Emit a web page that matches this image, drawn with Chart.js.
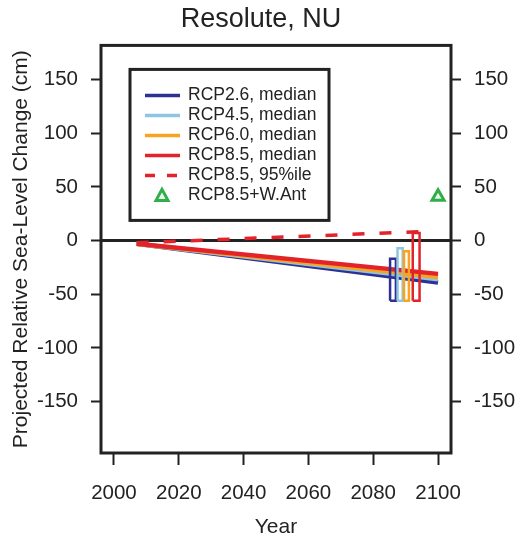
<!DOCTYPE html>
<html>
<head>
<meta charset="utf-8">
<script src="https://cdn.jsdelivr.net/npm/chart.js@4/dist/chart.umd.min.js"></script>
<style>
  body { margin: 0; background: #fff; }
  #wrap { width: 522px; height: 541px; }
</style>
</head>
<body>
<div id="wrap"><canvas id="slr" width="522" height="541"></canvas></div>
<script>
// values
const medianYears = [2007, 2100];
const rcp26Median = [-3, -39];
const rcp45Median = [-3, -36];
const rcp60Median = [-3, -34];
const rcp85Median = [-3, -31];
const p95Years = [2007, 2096];
const rcp85P95 = [-2, 8.5];

// 2100 ranges (boxes), drawn just left of 2100
const boxLeft = [2085.2, 2087.5, 2089.5, 2092.2];
const boxRight = [2087.0, 2089.1, 2091.0, 2094.3];
const boxLow = [-56, -56, -56, -56];
const boxHigh = [-17, -7, -10, 7];

const wAntYear = [2100];
const wAntValue = [41];

const xTicks = [2000, 2020, 2040, 2060, 2080, 2100];
const yTicks = [-150, -100, -50, 0, 50, 100, 150];

const seriesColors = ['#2e3192', '#8ec5e3', '#f7a520', '#e2232a'];
const legendLabels = ['RCP2.6, median', 'RCP4.5, median', 'RCP6.0, median',
  'RCP8.5, median', 'RCP8.5, 95%ile', 'RCP8.5+W.Ant'];
const green = '#2fae4a';
const ink = '#222';
const FONT = '"Liberation Sans", Arial, Helvetica, sans-serif';

function pts(xs, ys) {
  return xs.map((x, i) => ({ x: x, y: ys[i] }));
}

function boxPath(i) {
  return [
    { x: boxLeft[i], y: boxLow[i] },
    { x: boxLeft[i], y: boxHigh[i] },
    { x: boxRight[i], y: boxHigh[i] },
    { x: boxRight[i], y: boxLow[i] },
    { x: boxLeft[i], y: boxLow[i] },
  ];
}

const medians = [rcp26Median, rcp45Median, rcp60Median, rcp85Median];

const datasets = [];
// zero reference line
datasets.push({
  data: [{ x: 1996, y: 0 }, { x: 2104, y: 0 }],
  borderColor: ink, borderWidth: 3, pointRadius: 0, order: 20,
});
medians.forEach((m, i) => {
  datasets.push({
    label: legendLabels[i],
    data: pts(medianYears, m),
    borderColor: seriesColors[i], borderWidth: 4.5, pointRadius: 0,
    order: 15 - i,
  });
});
datasets.push({
  label: legendLabels[4],
  data: pts(p95Years, rcp85P95),
  borderColor: seriesColors[3], borderWidth: 3.5, borderDash: [12, 15],
  pointRadius: 0, order: 9,
});
boxLeft.forEach((b, i) => {
  datasets.push({
    data: boxPath(i),
    borderColor: seriesColors[i], borderWidth: 2.5, pointRadius: 0,
    borderJoinStyle: 'miter', order: 8 - i,
  });
});
datasets.push({
  label: legendLabels[5],
  data: pts(wAntYear, wAntValue),
  showLine: false, pointStyle: 'triangle', pointRadius: 7,
  pointBorderWidth: 3, pointBorderColor: green, pointBackgroundColor: '#e9f6ea',
  order: 1,
});

// box round the plot and the boxed legend
const frameAndLegend = {
  id: 'frameAndLegend',
  afterDatasetsDraw(chart) {
    const { ctx, chartArea: a } = chart;
    ctx.save();
    ctx.strokeStyle = ink;
    ctx.lineWidth = 3;
    ctx.strokeRect(a.left, a.top, a.right - a.left, a.bottom - a.top);

    const lx = a.left + 29, ly = a.top + 24;
    ctx.fillStyle = '#fff';
    ctx.fillRect(lx, ly, 199, 151);
    ctx.strokeRect(lx, ly, 199, 151);

    ctx.font = '17.5px ' + FONT;
    ctx.textBaseline = 'middle';
    legendLabels.forEach((lab, i) => {
      const y = ly + 26 + i * 20;
      ctx.fillStyle = ink;
      ctx.fillText(lab, lx + 58, y);
      if (i < 5) {
        ctx.beginPath();
        ctx.strokeStyle = seriesColors[Math.min(i, 3)];
        ctx.lineWidth = 3.5;
        ctx.setLineDash(i === 4 ? [10, 12] : []);
        ctx.moveTo(lx + 15, y);
        ctx.lineTo(lx + 50, y);
        ctx.stroke();
        ctx.setLineDash([]);
      } else {
        const cx = lx + 32;
        ctx.beginPath();
        ctx.moveTo(cx, y - 6);
        ctx.lineTo(cx + 6, y + 5);
        ctx.lineTo(cx - 6, y + 5);
        ctx.closePath();
        ctx.fillStyle = '#e9f6ea';
        ctx.fill();
        ctx.strokeStyle = green;
        ctx.lineWidth = 3;
        ctx.stroke();
      }
    });
    ctx.restore();
  },
};

const tickFont = { family: FONT, size: 20.5 };

function yAxis(position, width) {
  return {
    type: 'linear', position: position, display: true,
    min: -198, max: 182,
    afterBuildTicks: s => { s.ticks = yTicks.map(v => ({ value: v })); },
    afterFit: s => { s.width = width; },
    border: { display: false },
    grid: { drawOnChartArea: false, drawTicks: true, tickLength: 10, tickWidth: 2, tickColor: ink },
    ticks: { font: tickFont, color: ink, padding: 13 },
  };
}

const leftY = yAxis('left', 101);
leftY.title = {
  display: true, text: 'Projected Relative Sea-Level Change (cm)',
  font: { family: FONT, size: 21 }, color: ink, padding: { top: 9, bottom: 0 },
};

new Chart('slr', {
  type: 'line',
  data: { datasets: datasets },
  options: {
    responsive: false,
    animation: false,
    layout: { padding: 0 },
    scales: {
      x: {
        type: 'linear', position: 'bottom', min: 1996, max: 2104,
        afterBuildTicks: s => { s.ticks = xTicks.map(v => ({ value: v })); },
        afterFit: s => { s.height = 88; },
        border: { display: false },
        grid: { drawOnChartArea: false, drawTicks: true, tickLength: 12, tickWidth: 2, tickColor: ink },
        ticks: { font: tickFont, color: ink, padding: 16, maxRotation: 0, callback: v => String(v) },
        title: {
          display: true, text: 'Year', font: { family: FONT, size: 21 }, color: ink,
          padding: { top: 0, bottom: 1 },
        },
      },
      y: leftY,
      y2: yAxis('right', 71),
    },
    plugins: {
      legend: { display: false },
      tooltip: { enabled: false },
      title: {
        display: true, text: 'Resolute, NU', color: ink,
        font: { family: FONT, size: 27, weight: 'normal' },
        padding: { top: 3, bottom: 10 },
      },
    },
  },
  plugins: [frameAndLegend],
});
</script>
</body>
</html>
